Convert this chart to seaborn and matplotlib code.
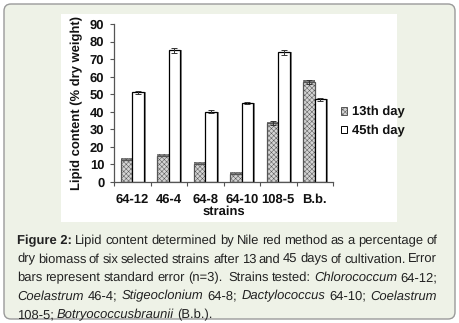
import matplotlib
matplotlib.use("Agg")
import matplotlib.pyplot as plt
import matplotlib.patheffects as pe
import seaborn as sns
import pandas as pd
import numpy as np
from matplotlib.patches import FancyBboxPatch, Rectangle, Patch

strains = ["64-12", "46-4", "64-8", "64-10", "108-5", "B.b."]
day13 = [12.5, 15, 10.5, 4.5, 33.5, 57]
day45 = [51, 75, 40, 45, 74, 47]
err13 = [0, 0, 0, 0, 1.0, 1.3]
err45 = [0.9, 1.4, 0.9, 0.7, 1.4, 1.0]
series = ["13th day", "45th day"]

sns.set_theme(style="white")
plt.rcParams['font.family'] = ['Liberation Sans', 'DejaVu Sans']
plt.rcParams['hatch.linewidth'] = 0.35
plt.rcParams['text.hinting'] = 'no_hinting'
plt.rcParams['text.hinting_factor'] = 1

df = pd.DataFrame({
    "strain": strains * 2,
    "value": day13 + day45,
    "day": [series[0]] * len(strains) + [series[1]] * len(strains),
})

W, H = 459, 323
fig = plt.figure(figsize=(W / 100, H / 100), dpi=100)
fig.patch.set_facecolor("white")

bg = fig.add_axes([0, 0, 1, 1], zorder=0)
bg.set_xlim(0, W)
bg.set_ylim(H, 0)
bg.axis("off")
bg.add_patch(FancyBboxPatch((4, 4), W - 8, H - 8, boxstyle="round,pad=0,rounding_size=7",
                            facecolor="#eef2e7", edgecolor="#9a9a9a", linewidth=1.0))
bg.add_patch(Rectangle((61, 14), 336, 208, facecolor="white", edgecolor="none"))

ax = fig.add_axes([114 / W, 1 - 182 / H, (333 - 114) / W, (182 - 24) / H], zorder=2)
ax.patch.set_alpha(0)
sns.barplot(data=df, x="strain", y="value", hue="day", order=strains, hue_order=series,
            palette=["#d4d4d4", "white"], width=0.63, gap=0, legend=False,
            edgecolor="black", linewidth=0.9, ax=ax, errorbar=None)

cont13, cont45 = ax.containers[0], ax.containers[1]
for p in cont13:
    p.set_hatch("xxxxxxx")
    p.set_edgecolor("#555555")
    p.set_path_effects([pe.SimplePatchShadow(offset=(0.0, 1.2), shadow_rgbFace="#888888", alpha=1.0),
                        pe.Normal()])
for p in cont45:
    p.set_path_effects([pe.SimplePatchShadow(offset=(1.5, 0.0), shadow_rgbFace="#888888", alpha=1.0),
                        pe.Normal()])

for cont, vals, errs in [(cont13, day13, err13), (cont45, day45, err45)]:
    xs = [p.get_x() + p.get_width() / 2 for p in cont]
    for x, v, e in zip(xs, vals, errs):
        if e > 0:
            ax.errorbar(x, v, yerr=e, fmt="none", ecolor="#333333", elinewidth=0.7,
                        capsize=2.5, capthick=0.7, zorder=5)

ax.set_ylim(0, 90)
ax.set_xlim(-0.5, 5.5)
ax.set_yticks(np.arange(0, 91, 10))
ax.set_xticks(range(len(strains)))
ax.set_xticklabels(strains)
ax.set_xticks(np.arange(-0.5, 5.6, 1), minor=True)
ax.tick_params(axis="x", which="major", length=0, pad=8, labelsize=9)
ax.tick_params(axis="x", which="minor", length=3, width=0.8, direction="out", color="#555555", bottom=True)
ax.tick_params(axis="y", length=3, width=0.8, direction="out", pad=4, labelsize=9, color="#555555", left=True)
for lab in ax.get_xticklabels() + ax.get_yticklabels():
    lab.set_fontweight("bold")
    lab.set_color("#111111")
for s in ["top", "right"]:
    ax.spines[s].set_visible(False)
for s in ["left", "bottom"]:
    ax.spines[s].set_color("#555555")
    ax.spines[s].set_linewidth(0.9)
ax.set_xlabel("strains", fontsize=9, fontweight="bold", labelpad=0, color="#111111")
ax.set_ylabel("Lipid content (% dry weight)", fontsize=9, fontweight="bold", labelpad=5, color="#111111")

h13 = Patch(facecolor="#d4d4d4", edgecolor="#555555", hatch="xxxxxxx", linewidth=0.7)
h45 = Patch(facecolor="white", edgecolor="black", linewidth=0.7)
leg = fig.legend([h13, h45], series, loc="center left", bbox_to_anchor=(329 / W, 1 - 121.5 / H),
                 frameon=False, handlelength=0.5, handleheight=0.5, handletextpad=0.35,
                 labelspacing=0.5, prop={"weight": "bold", "size": 9.3})
for t in leg.get_texts():
    t.set_color("#111111")

# caption (justified)
cap_lines = [
    [("Figure 2:", "bold"), ("Lipid", "n"), ("content", "n"), ("determined", "n"), ("by", "n"), ("Nile", "n"),
     ("red", "n"), ("method", "n"), ("as", "n"), ("a", "n"), ("percentage", "n"), ("of", "n")],
    [(w, "n") for w in "dry biomass of six selected strains after 13 and 45 days of cultivation. Error".split()],
    [(w, "n") for w in "bars represent standard error (n=3).  Strains tested:".split(" ")] +
    [("Chlorococcum", "i"), ("64-12;", "n")],
    [("Coelastrum", "i"), ("46-4;", "n"), ("Stigeoclonium", "i"), ("64-8;", "n"), ("Dactylococcus", "i"),
     ("64-10;", "n"), ("Coelastrum", "i")],
    [("108-5;", "n"), ("Botryococcusbraunii", "i"), ("(B.b.).", "n")],
]
cap_y = [244, 262.5, 281, 299.5, 318]
x0, x1 = 17, 437
fs = 9.3
fig.canvas.draw()
renderer = fig.canvas.get_renderer()
for li, (words, yy) in enumerate(zip(cap_lines, cap_y)):
    texts = []
    for w, st in words:
        kw = dict(fontsize=fs, color="#222222", va="baseline", ha="left")
        if w == "":
            kw["alpha"] = 0
        if st == "bold":
            kw["fontweight"] = "bold"
        if st == "i":
            kw["fontstyle"] = "italic"
        texts.append(bg.text(0, yy, w if w else " ", **kw))
    widths = [t.get_window_extent(renderer).width if t.get_text().strip() else 0 for t in texts]
    total = sum(widths)
    n_gaps = len(texts) - 1
    if li < len(cap_lines) - 1:
        gap = (x1 - x0 - total) / n_gaps
    else:
        gap = 3.0
    x = x0
    for t, wd in zip(texts, widths):
        t.set_x(x)
        x += wd + gap

fig.savefig("out.png", dpi=100)
